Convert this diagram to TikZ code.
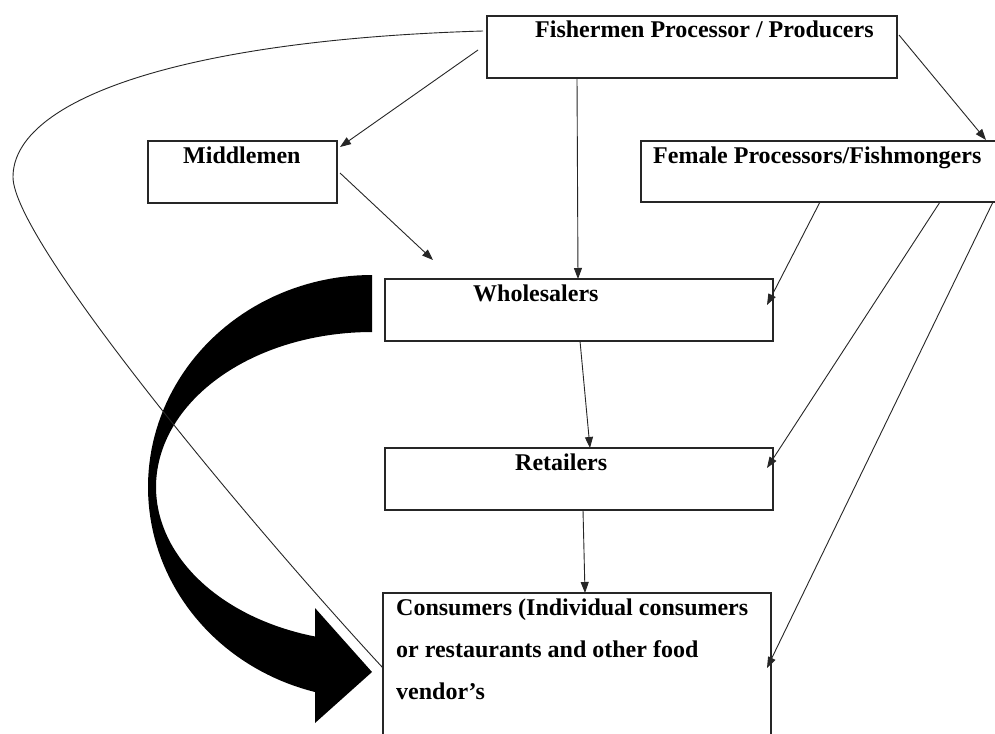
\documentclass[tikz,border=0pt]{standalone}
\usepackage{fontspec}
\setmainfont{Liberation Serif}
\usetikzlibrary{arrows.meta,calc}
\begin{document}
\begin{tikzpicture}[x=1pt,y=-1pt,
  box/.style={draw=black!85, line width=1.2pt, inner sep=0pt, outer sep=0pt},
  lbl/.style={font=\fontsize{24}{28}\selectfont\bfseries, inner sep=0pt, anchor=base west},
  conn/.style={draw=black!85, line width=0.9pt, -{Triangle[length=11pt,width=8pt]}},
  curveline/.style={draw=black!85, line width=0.9pt}]
\fill[white] (0,0) rectangle (995,733);
\useasboundingbox (0,0) rectangle (995,733);

% boxes
\node[box, minimum width=410pt, minimum height=62pt] (fish) at (692,47) {};
\node[box, minimum width=189pt, minimum height=62pt] (mid) at (242.5,172) {};
\node[box, minimum width=361pt, minimum height=61pt] (fem) at (821.5,171.5) {};
\node[box, minimum width=388pt, minimum height=62pt] (whole) at (579,310) {};
\node[box, minimum width=388pt, minimum height=62pt] (ret) at (579,479) {};
\node[box, minimum width=388pt, minimum height=180pt] (cons) at (577,683) {};

% labels
\node[lbl] (fishT) at (535,38) {Fishermen Processor / Producers};
\node[lbl] (midT) at (183,163) {Middlemen};
\node[lbl] (femT) at (653,163) {Female Processors/Fishmongers};
\node[lbl] (wholeT) at (473,301) {Wholesalers};
\node[lbl] (retT) at (515,470) {Retailers};
\node[lbl] (cons1) at (396,615) {Consumers (Individual consumers};
\node[lbl] (cons2) at (396,657) {or restaurants and other food};
\node[lbl] (cons3) at (396,699) {vendor’s};

% big curved arrow
\fill[black] (372,275) -- plot[domain=0:165.26, samples=90, variable=\t] ({372-224*sin(\t)},{487-212*cos(\t)})
  -- (315,723) -- (372,672) -- (315,608)
  -- plot[domain=164.7:0, samples=90, variable=\t] ({372-216*sin(\t)},{487-155*cos(\t)}) -- cycle;

% long thin curve from producers to consumers
\draw[curveline] ([xshift=-4pt,yshift=16pt]fish.west) .. controls (180,40) and (13,100) .. (13,177)
  .. controls (13,240) and (247,521) .. ([yshift=15pt]cons.west);

% connectors
\draw[conn] ([xshift=-9pt,yshift=-3pt]fish.west) -- ([xshift=3pt,yshift=-6pt]mid.north east);
\draw[conn] ([xshift=-115pt]fish.south) -- ([xshift=-1pt]whole.north);
\draw[conn] ([xshift=2pt,yshift=12pt]fish.east) -- ([xshift=345pt,yshift=1pt]fem.north west);
\coordinate (midEnd) at (433,260);
\draw[conn] ([xshift=3pt,yshift=-1pt]mid.east) -- (midEnd);
\draw[conn] ([xshift=1pt]whole.south) -- ([xshift=11pt]ret.north);
\draw[conn] ([xshift=4pt]ret.south) -- ([xshift=8pt]cons.north);
\draw[conn] ([xshift=179pt]fem.south west) -- ([xshift=-6pt,yshift=5pt]whole.east);
\draw[conn] ([xshift=299pt]fem.south west) -- ([xshift=-6pt,yshift=11pt]ret.east);
\draw[conn] ([xshift=352pt]fem.south west) -- ([xshift=-4pt,yshift=15pt]cons.east);
\end{tikzpicture}
\end{document}
